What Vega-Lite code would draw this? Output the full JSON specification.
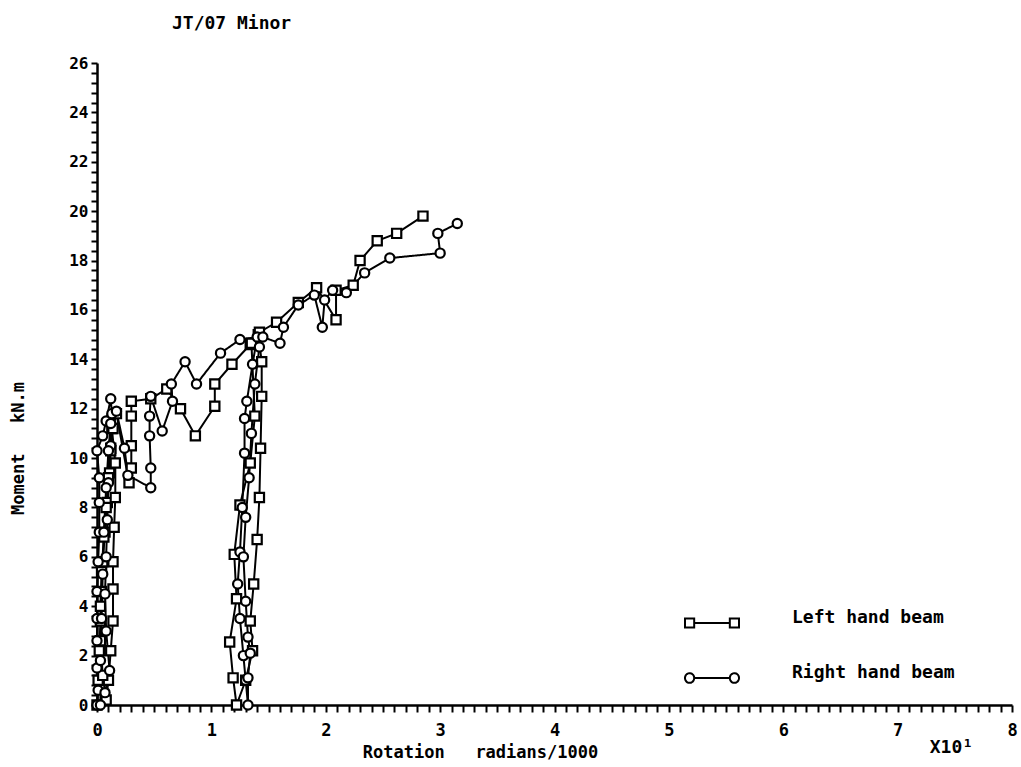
{
  "$schema": "https://vega.github.io/schema/vega-lite/v6.json",
  "width": 915,
  "height": 642,
  "autosize": {"type": "none"},
  "padding": {"left": 97, "top": 63, "right": 9, "bottom": 62},
  "background": "white",
  "config": {
    "view": {"stroke": null},
    "font": "DejaVu Sans Mono",
    "axis": {"grid": false, "domainColor": "black", "domainWidth": 2.5, "tickColor": "black", "tickWidth": 2, "labelColor": "black", "titleColor": "black", "labelFont": "DejaVu Sans Mono", "titleFont": "DejaVu Sans Mono", "labelFontWeight": "bold", "titleFontWeight": "bold"},
    "legend": {"labelFont": "DejaVu Sans Mono", "labelFontWeight": "bold", "labelFontSize": 18, "labelColor": "black", "labelBaseline": "alphabetic", "labelLimit": 300, "padding": 0, "rowPadding": 1, "symbolSize": 2916, "symbolStrokeWidth": 2, "symbolStrokeColor": "black", "symbolFillColor": "transparent", "labelOffset": 52, "title": null}
  },
  "title": {"text": "JT/07 Minor", "anchor": "start", "frame": "group", "dx": 75, "offset": 22, "font": "DejaVu Sans Mono", "fontSize": 18, "fontWeight": "bold", "color": "black"},
  "datasets": {
    "pts": [
      {"beam": "Left hand beam", "i": 1, "rot": 0, "m": 0},
      {"beam": "Left hand beam", "i": 2, "rot": 0.01, "m": 1.0},
      {"beam": "Left hand beam", "i": 3, "rot": 0.02, "m": 2.2},
      {"beam": "Left hand beam", "i": 4, "rot": 0.03, "m": 3.4},
      {"beam": "Left hand beam", "i": 5, "rot": 0.04, "m": 4.6},
      {"beam": "Left hand beam", "i": 6, "rot": 0.05, "m": 5.8},
      {"beam": "Left hand beam", "i": 7, "rot": 0.07, "m": 7.0},
      {"beam": "Left hand beam", "i": 8, "rot": 0.09, "m": 8.2},
      {"beam": "Left hand beam", "i": 9, "rot": 0.11, "m": 9.4},
      {"beam": "Left hand beam", "i": 10, "rot": 0.12, "m": 10.4},
      {"beam": "Left hand beam", "i": 11, "rot": 0.13, "m": 11.2},
      {"beam": "Left hand beam", "i": 12, "rot": 0.16, "m": 9.8},
      {"beam": "Left hand beam", "i": 13, "rot": 0.16, "m": 8.4},
      {"beam": "Left hand beam", "i": 14, "rot": 0.15, "m": 7.2},
      {"beam": "Left hand beam", "i": 15, "rot": 0.14, "m": 5.8},
      {"beam": "Left hand beam", "i": 16, "rot": 0.14, "m": 4.7},
      {"beam": "Left hand beam", "i": 17, "rot": 0.14, "m": 3.4},
      {"beam": "Left hand beam", "i": 18, "rot": 0.12, "m": 2.2},
      {"beam": "Left hand beam", "i": 19, "rot": 0.10, "m": 1.0},
      {"beam": "Left hand beam", "i": 20, "rot": 0.08, "m": 0.2},
      {"beam": "Left hand beam", "i": 21, "rot": 0.05, "m": 1.2},
      {"beam": "Left hand beam", "i": 22, "rot": 0.03, "m": 2.6},
      {"beam": "Left hand beam", "i": 23, "rot": 0.03, "m": 4.0},
      {"beam": "Left hand beam", "i": 24, "rot": 0.04, "m": 5.4},
      {"beam": "Left hand beam", "i": 25, "rot": 0.06, "m": 6.8},
      {"beam": "Left hand beam", "i": 26, "rot": 0.08, "m": 8.0},
      {"beam": "Left hand beam", "i": 27, "rot": 0.10, "m": 9.2},
      {"beam": "Left hand beam", "i": 28, "rot": 0.12, "m": 10.3},
      {"beam": "Left hand beam", "i": 29, "rot": 0.14, "m": 11.2},
      {"beam": "Left hand beam", "i": 30, "rot": 0.17, "m": 11.8},
      {"beam": "Left hand beam", "i": 31, "rot": 0.28, "m": 9.0},
      {"beam": "Left hand beam", "i": 32, "rot": 0.30, "m": 9.6},
      {"beam": "Left hand beam", "i": 33, "rot": 0.30, "m": 10.5},
      {"beam": "Left hand beam", "i": 34, "rot": 0.30, "m": 11.7},
      {"beam": "Left hand beam", "i": 35, "rot": 0.30, "m": 12.3},
      {"beam": "Left hand beam", "i": 36, "rot": 0.47, "m": 12.4},
      {"beam": "Left hand beam", "i": 37, "rot": 0.61, "m": 12.8},
      {"beam": "Left hand beam", "i": 38, "rot": 0.73, "m": 12.0},
      {"beam": "Left hand beam", "i": 39, "rot": 0.86, "m": 10.9},
      {"beam": "Left hand beam", "i": 40, "rot": 1.03, "m": 12.1},
      {"beam": "Left hand beam", "i": 41, "rot": 1.03, "m": 13.0},
      {"beam": "Left hand beam", "i": 42, "rot": 1.18, "m": 13.8},
      {"beam": "Left hand beam", "i": 43, "rot": 1.34, "m": 14.6},
      {"beam": "Left hand beam", "i": 44, "rot": 1.41, "m": 15.0},
      {"beam": "Left hand beam", "i": 45, "rot": 1.44, "m": 13.9},
      {"beam": "Left hand beam", "i": 46, "rot": 1.44, "m": 12.5},
      {"beam": "Left hand beam", "i": 47, "rot": 1.43, "m": 10.4},
      {"beam": "Left hand beam", "i": 48, "rot": 1.42, "m": 8.4},
      {"beam": "Left hand beam", "i": 49, "rot": 1.40, "m": 6.7},
      {"beam": "Left hand beam", "i": 50, "rot": 1.37, "m": 4.9},
      {"beam": "Left hand beam", "i": 51, "rot": 1.34, "m": 3.4},
      {"beam": "Left hand beam", "i": 52, "rot": 1.36, "m": 2.2},
      {"beam": "Left hand beam", "i": 53, "rot": 1.30, "m": 1.0},
      {"beam": "Left hand beam", "i": 54, "rot": 1.22, "m": 0},
      {"beam": "Left hand beam", "i": 55, "rot": 1.19, "m": 1.1},
      {"beam": "Left hand beam", "i": 56, "rot": 1.16, "m": 2.55},
      {"beam": "Left hand beam", "i": 57, "rot": 1.22, "m": 4.3},
      {"beam": "Left hand beam", "i": 58, "rot": 1.20, "m": 6.1},
      {"beam": "Left hand beam", "i": 59, "rot": 1.25, "m": 8.1},
      {"beam": "Left hand beam", "i": 60, "rot": 1.34, "m": 9.8},
      {"beam": "Left hand beam", "i": 61, "rot": 1.38, "m": 11.7},
      {"beam": "Left hand beam", "i": 62, "rot": 1.35, "m": 14.65},
      {"beam": "Left hand beam", "i": 63, "rot": 1.42, "m": 15.1},
      {"beam": "Left hand beam", "i": 64, "rot": 1.57, "m": 15.5},
      {"beam": "Left hand beam", "i": 65, "rot": 1.76, "m": 16.3},
      {"beam": "Left hand beam", "i": 66, "rot": 1.92, "m": 16.9},
      {"beam": "Left hand beam", "i": 67, "rot": 2.09, "m": 15.6},
      {"beam": "Left hand beam", "i": 68, "rot": 2.09, "m": 16.8},
      {"beam": "Left hand beam", "i": 69, "rot": 2.24, "m": 17.0},
      {"beam": "Left hand beam", "i": 70, "rot": 2.30, "m": 18.0},
      {"beam": "Left hand beam", "i": 71, "rot": 2.45, "m": 18.8},
      {"beam": "Left hand beam", "i": 72, "rot": 2.62, "m": 19.1},
      {"beam": "Left hand beam", "i": 73, "rot": 2.85, "m": 19.8},
      {"beam": "Right hand beam", "i": 1, "rot": 0, "m": 0},
      {"beam": "Right hand beam", "i": 2, "rot": 0.01, "m": 0.6},
      {"beam": "Right hand beam", "i": 3, "rot": 0.0, "m": 1.5},
      {"beam": "Right hand beam", "i": 4, "rot": 0.0, "m": 2.6},
      {"beam": "Right hand beam", "i": 5, "rot": 0.0, "m": 3.5},
      {"beam": "Right hand beam", "i": 6, "rot": 0.0, "m": 4.6},
      {"beam": "Right hand beam", "i": 7, "rot": 0.01, "m": 5.8},
      {"beam": "Right hand beam", "i": 8, "rot": 0.02, "m": 7.0},
      {"beam": "Right hand beam", "i": 9, "rot": 0.02, "m": 8.2},
      {"beam": "Right hand beam", "i": 10, "rot": 0.02, "m": 9.2},
      {"beam": "Right hand beam", "i": 11, "rot": 0.0, "m": 10.3},
      {"beam": "Right hand beam", "i": 12, "rot": 0.05, "m": 10.9},
      {"beam": "Right hand beam", "i": 13, "rot": 0.08, "m": 11.5},
      {"beam": "Right hand beam", "i": 14, "rot": 0.12, "m": 12.4},
      {"beam": "Right hand beam", "i": 15, "rot": 0.13, "m": 11.8},
      {"beam": "Right hand beam", "i": 16, "rot": 0.12, "m": 10.5},
      {"beam": "Right hand beam", "i": 17, "rot": 0.10, "m": 9.0},
      {"beam": "Right hand beam", "i": 18, "rot": 0.09, "m": 7.5},
      {"beam": "Right hand beam", "i": 19, "rot": 0.08, "m": 6.0},
      {"beam": "Right hand beam", "i": 20, "rot": 0.07, "m": 4.5},
      {"beam": "Right hand beam", "i": 21, "rot": 0.08, "m": 3.0},
      {"beam": "Right hand beam", "i": 22, "rot": 0.11, "m": 1.4},
      {"beam": "Right hand beam", "i": 23, "rot": 0.07, "m": 0.5},
      {"beam": "Right hand beam", "i": 24, "rot": 0.03, "m": 0.0},
      {"beam": "Right hand beam", "i": 25, "rot": 0.03, "m": 1.8},
      {"beam": "Right hand beam", "i": 26, "rot": 0.04, "m": 3.5},
      {"beam": "Right hand beam", "i": 27, "rot": 0.05, "m": 5.3},
      {"beam": "Right hand beam", "i": 28, "rot": 0.06, "m": 7.0},
      {"beam": "Right hand beam", "i": 29, "rot": 0.08, "m": 8.8},
      {"beam": "Right hand beam", "i": 30, "rot": 0.10, "m": 10.3},
      {"beam": "Right hand beam", "i": 31, "rot": 0.12, "m": 11.4},
      {"beam": "Right hand beam", "i": 32, "rot": 0.17, "m": 11.9},
      {"beam": "Right hand beam", "i": 33, "rot": 0.24, "m": 10.4},
      {"beam": "Right hand beam", "i": 34, "rot": 0.27, "m": 9.3},
      {"beam": "Right hand beam", "i": 35, "rot": 0.47, "m": 8.8},
      {"beam": "Right hand beam", "i": 36, "rot": 0.47, "m": 9.6},
      {"beam": "Right hand beam", "i": 37, "rot": 0.46, "m": 10.9},
      {"beam": "Right hand beam", "i": 38, "rot": 0.46, "m": 11.7},
      {"beam": "Right hand beam", "i": 39, "rot": 0.47, "m": 12.5},
      {"beam": "Right hand beam", "i": 40, "rot": 0.57, "m": 11.1},
      {"beam": "Right hand beam", "i": 41, "rot": 0.66, "m": 12.3},
      {"beam": "Right hand beam", "i": 42, "rot": 0.65, "m": 13.0},
      {"beam": "Right hand beam", "i": 43, "rot": 0.77, "m": 13.9},
      {"beam": "Right hand beam", "i": 44, "rot": 0.87, "m": 13.0},
      {"beam": "Right hand beam", "i": 45, "rot": 1.08, "m": 14.25},
      {"beam": "Right hand beam", "i": 46, "rot": 1.25, "m": 14.8},
      {"beam": "Right hand beam", "i": 47, "rot": 1.40, "m": 14.9},
      {"beam": "Right hand beam", "i": 48, "rot": 1.36, "m": 13.8},
      {"beam": "Right hand beam", "i": 49, "rot": 1.31, "m": 12.3},
      {"beam": "Right hand beam", "i": 50, "rot": 1.29, "m": 11.6},
      {"beam": "Right hand beam", "i": 51, "rot": 1.29, "m": 10.2},
      {"beam": "Right hand beam", "i": 52, "rot": 1.27, "m": 8.0},
      {"beam": "Right hand beam", "i": 53, "rot": 1.25, "m": 6.2},
      {"beam": "Right hand beam", "i": 54, "rot": 1.23, "m": 4.9},
      {"beam": "Right hand beam", "i": 55, "rot": 1.25, "m": 3.5},
      {"beam": "Right hand beam", "i": 56, "rot": 1.28, "m": 2.0},
      {"beam": "Right hand beam", "i": 57, "rot": 1.30, "m": 1.0},
      {"beam": "Right hand beam", "i": 58, "rot": 1.32, "m": 0},
      {"beam": "Right hand beam", "i": 59, "rot": 1.32, "m": 1.1},
      {"beam": "Right hand beam", "i": 60, "rot": 1.34, "m": 2.1},
      {"beam": "Right hand beam", "i": 61, "rot": 1.32, "m": 2.75},
      {"beam": "Right hand beam", "i": 62, "rot": 1.30, "m": 4.2},
      {"beam": "Right hand beam", "i": 63, "rot": 1.28, "m": 6.0},
      {"beam": "Right hand beam", "i": 64, "rot": 1.30, "m": 7.6},
      {"beam": "Right hand beam", "i": 65, "rot": 1.33, "m": 9.2},
      {"beam": "Right hand beam", "i": 66, "rot": 1.35, "m": 11.0},
      {"beam": "Right hand beam", "i": 67, "rot": 1.38, "m": 13.0},
      {"beam": "Right hand beam", "i": 68, "rot": 1.42, "m": 14.5},
      {"beam": "Right hand beam", "i": 69, "rot": 1.45, "m": 14.9},
      {"beam": "Right hand beam", "i": 70, "rot": 1.60, "m": 14.65},
      {"beam": "Right hand beam", "i": 71, "rot": 1.63, "m": 15.3},
      {"beam": "Right hand beam", "i": 72, "rot": 1.76, "m": 16.2},
      {"beam": "Right hand beam", "i": 73, "rot": 1.90, "m": 16.6},
      {"beam": "Right hand beam", "i": 74, "rot": 1.97, "m": 15.3},
      {"beam": "Right hand beam", "i": 75, "rot": 1.99, "m": 16.4},
      {"beam": "Right hand beam", "i": 76, "rot": 2.06, "m": 16.8},
      {"beam": "Right hand beam", "i": 77, "rot": 2.18, "m": 16.7},
      {"beam": "Right hand beam", "i": 78, "rot": 2.34, "m": 17.5},
      {"beam": "Right hand beam", "i": 79, "rot": 2.56, "m": 18.1},
      {"beam": "Right hand beam", "i": 80, "rot": 3.00, "m": 18.3},
      {"beam": "Right hand beam", "i": 81, "rot": 2.98, "m": 19.1},
      {"beam": "Right hand beam", "i": 82, "rot": 3.15, "m": 19.5}
    ]
  },
  "data": {"name": "pts"},
  "encoding": {
    "x": {
      "field": "rot", "type": "quantitative",
      "scale": {"domain": [0, 8], "nice": false, "zero": false},
      "axis": {
        "values": [0,0.1,0.2,0.3,0.4,0.5,0.6,0.7,0.8,0.9,1,1.1,1.2,1.3,1.4,1.5,1.6,1.7,1.8,1.9,2,2.1,2.2,2.3,2.4,2.5,2.6,2.7,2.8,2.9,3,3.1,3.2,3.3,3.4,3.5,3.6,3.7,3.8,3.9,4,4.1,4.2,4.3,4.4,4.5,4.6,4.7,4.8,4.9,5,5.1,5.2,5.3,5.4,5.5,5.6,5.7,5.8,5.9,6,6.1,6.2,6.3,6.4,6.5,6.6,6.7,6.8,6.9,7,7.1,7.2,7.3,7.4,7.5,7.6,7.7,7.8,7.9,8],
        "labelExpr": "datum.value % 1 === 0 ? format(datum.value, 'd') : ''",
        "labelOverlap": false,
        "labelFlush": false,
        "labelBound": false,
        "tickSize": 7,
        "labelPadding": 10,
        "labelFontSize": 17,
        "title": "Rotation\u00a0\u00a0\u00a0radians/1000",
        "titleFontSize": 17,
        "titleX": 383,
        "titleY": 47,
        "titleAlign": "center",
        "titleBaseline": "middle"
      }
    },
    "y": {
      "field": "m", "type": "quantitative",
      "scale": {"domain": [0, 26], "nice": false},
      "axis": {
        "values": [0,0.4,0.8,1.2,1.6,2,2.4,2.8,3.2,3.6,4,4.4,4.8,5.2,5.6,6,6.4,6.8,7.2,7.6,8,8.4,8.8,9.2,9.6,10,10.4,10.8,11.2,11.6,12,12.4,12.8,13.2,13.6,14,14.4,14.8,15.2,15.6,16,16.4,16.8,17.2,17.6,18,18.4,18.8,19.2,19.6,20,20.4,20.8,21.2,21.6,22,22.4,22.8,23.2,23.6,24,24.4,24.8,25.2,25.6,26],
        "labelExpr": "datum.value % 2 === 0 ? format(datum.value, 'd') : ''",
        "labelOverlap": false,
        "labelFlush": false,
        "labelBound": false,
        "tickSize": 6,
        "labelPadding": 3,
        "labelFontSize": 16,
        "labelBaseline": "middle",
        "title": "Moment\u00a0\u00a0\u00a0kN.m",
        "titleFontSize": 17,
        "titleX": -79,
        "titleY": 385,
        "titleAngle": -90,
        "titleAlign": "center",
        "titleBaseline": "middle"
      }
    }
  },
  "layer": [
    {
      "transform": [{"filter": "datum.beam === 'Left hand beam'"}],
      "mark": {"type": "line", "strokeWidth": 2},
      "encoding": {
        "order": {"field": "i", "type": "quantitative"},
        "color": {
          "field": "beam", "type": "nominal",
          "scale": {"domain": ["Left hand beam"], "range": ["black"]},
          "legend": {
            "orient": "none", "legendX": 587, "legendY": 532,
            "symbolType": "M-1,-0.17h0.34v0.34h-0.34z M-0.66,0H0.66 M0.66,-0.17h0.34v0.34h-0.34z",
            "symbolStrokeColor": "black", "symbolFillColor": "transparent", "symbolStrokeWidth": 2, "symbolSize": 2916
          }
        }
      }
    },
    {
      "transform": [{"filter": "datum.beam === 'Right hand beam'"}],
      "mark": {"type": "line", "strokeWidth": 2, "color": "black"},
      "encoding": {
        "order": {"field": "i", "type": "quantitative"},
        "strokeDash": {
          "field": "beam", "type": "nominal",
          "scale": {"domain": ["Right hand beam"], "range": [[1, 0]]},
          "legend": {
            "orient": "none", "legendX": 587, "legendY": 587,
            "symbolType": "M-1,0a0.17,0.18 0 1,0 0.34,0a0.17,0.18 0 1,0 -0.34,0z M-0.66,0H0.66 M0.66,0a0.17,0.18 0 1,0 0.34,0a0.17,0.18 0 1,0 -0.34,0z",
            "symbolStrokeColor": "black", "symbolFillColor": "transparent", "symbolStrokeWidth": 2, "symbolSize": 2916, "symbolDash": [1, 0]
          }
        }
      }
    },
    {
      "mark": {"type": "point", "filled": true, "fill": "white", "stroke": "black", "strokeWidth": 2.2, "size": 85, "opacity": 1},
      "encoding": {
        "shape": {
          "field": "beam", "type": "nominal",
          "scale": {"domain": ["Left hand beam", "Right hand beam"], "range": ["square", "circle"]},
          "legend": null
        }
      }
    },
    {
      "transform": [{"filter": "datum.beam === 'Left hand beam' && datum.i === 1"}],
      "mark": {"type": "text", "font": "DejaVu Sans Mono", "fontSize": 18, "fontWeight": "bold", "color": "black", "align": "center", "baseline": "middle"},
      "encoding": {
        "x": {"datum": 7.47},
        "y": {"datum": -1.74},
        "text": {"value": "X10\u00b9"}
      }
    }
  ]
}
